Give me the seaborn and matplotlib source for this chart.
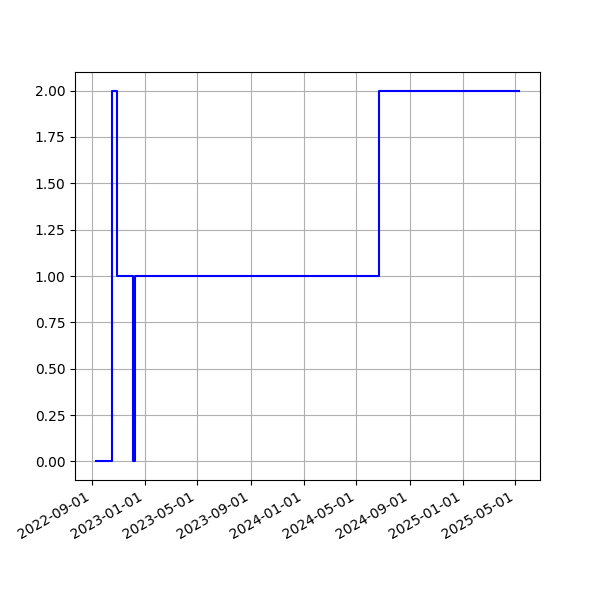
import matplotlib
matplotlib.use("Agg")
import matplotlib.pyplot as plt
import matplotlib.dates as mdates
import seaborn as sns
import pandas as pd

# step points (value holds until next date)
dates = ["2022-09-11", "2022-10-17", "2022-10-30", "2022-12-05",
         "2022-12-09", "2024-06-21", "2025-05-09"]
values = [0, 2, 1, 0, 1, 2, 2]

df = pd.DataFrame({"date": pd.to_datetime(dates), "value": values})

fig, ax = plt.subplots(figsize=(6, 6), dpi=100)
sns.lineplot(data=df, x="date", y="value", ax=ax, color="blue",
             drawstyle="steps-post", estimator=None, sort=False)

ax.xaxis.set_major_locator(mdates.MonthLocator(bymonth=[1, 5, 9]))
ax.xaxis.set_major_formatter(mdates.DateFormatter("%Y-%m-%d"))
ax.set_xlabel("")
ax.set_ylabel("")
ax.grid(True)
fig.autofmt_xdate()

fig.savefig("out.png", dpi=100)
